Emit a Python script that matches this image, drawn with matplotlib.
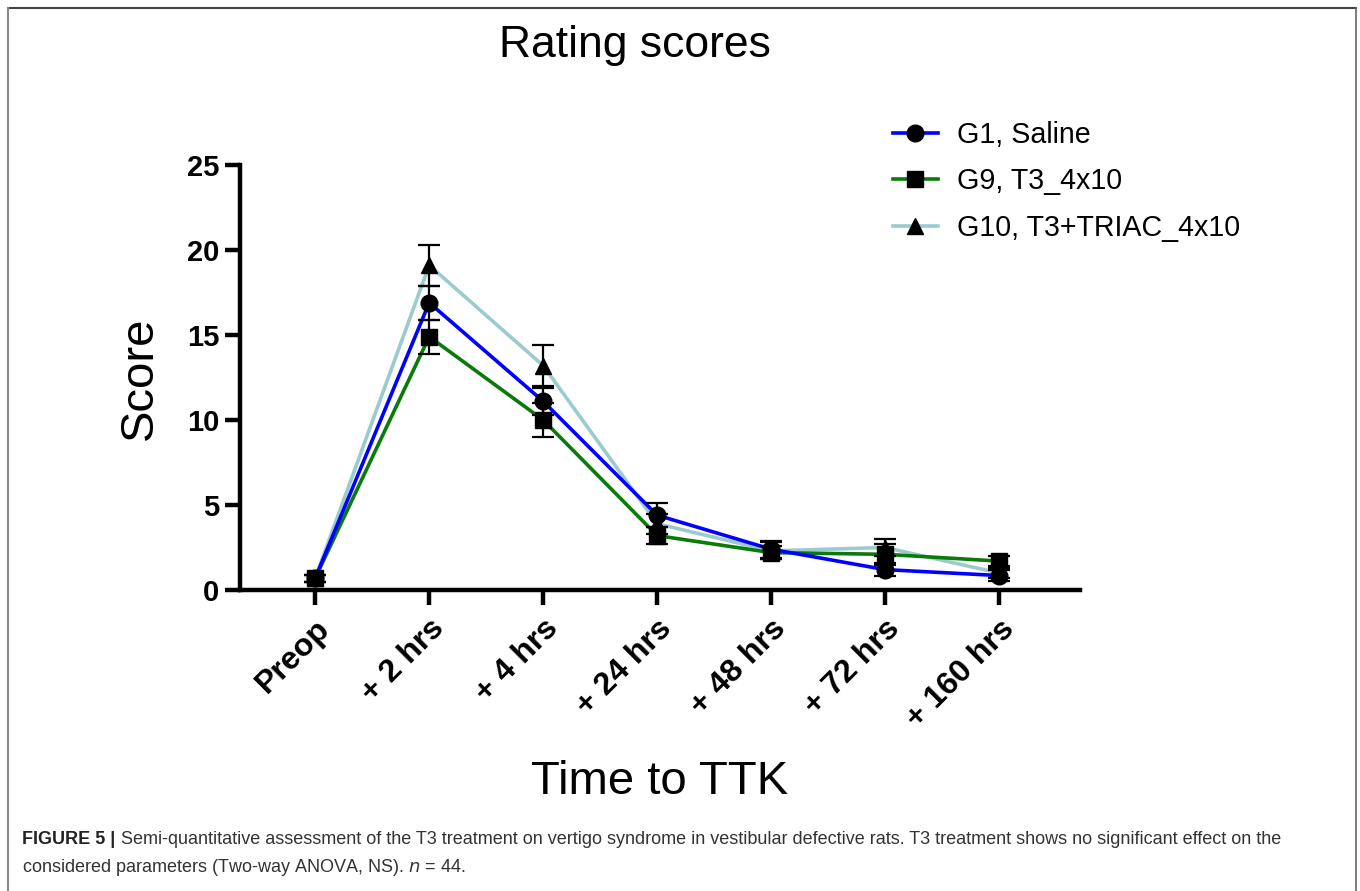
import matplotlib
matplotlib.use("Agg")
import matplotlib.pyplot as plt
from matplotlib.lines import Line2D
from matplotlib.transforms import ScaledTranslation

plt.rcParams['font.family'] = ['Liberation Sans', 'DejaVu Sans']

categories = ["Preop", "+ 2 hrs", "+ 4 hrs", "+ 24 hrs", "+ 48 hrs", "+ 72 hrs", "+ 160 hrs"]
g1_mean = [0.7, 16.9, 11.1, 4.4, 2.4, 1.2, 0.85]
g1_err = [0.2, 1.0, 0.8, 0.7, 0.5, 0.4, 0.3]
g9_mean = [0.7, 14.9, 10.0, 3.2, 2.2, 2.1, 1.7]
g9_err = [0.2, 1.0, 1.0, 0.5, 0.4, 0.6, 0.3]
g10_mean = [0.7, 19.1, 13.2, 3.9, 2.3, 2.5, 1.0]
g10_err = [0.2, 1.2, 1.2, 0.6, 0.5, 0.5, 0.3]
labels = ["G1, Saline", "G9, T3_4x10", "G10, T3+TRIAC_4x10"]
colors = ["#0000FF", "#0A7A0A", "#9BCBCD"]
markers = ["o", "s", "^"]
yticks = [0, 5, 10, 15, 20, 25]

W, H = 1360, 891
fig = plt.figure(figsize=(W / 100, H / 100), dpi=100)
ax = fig.add_axes([240 / W, 1 - 590 / H, (1080 - 240) / W, (590 - 165) / H])

x = list(range(len(categories)))
series = [(g10_mean, g10_err, 2), (g9_mean, g9_err, 1), (g1_mean, g1_err, 0)]
for z, (m, e, i) in enumerate(series):
    ax.plot(x, m, color=colors[i], lw=2.6, zorder=2 + z, solid_capstyle='butt')
for m, e, i in series:
    ax.errorbar(x, m, yerr=e, fmt='none', ecolor='black', elinewidth=1.6,
                capsize=8, capthick=1.6, zorder=6)
    ax.plot(x, m, linestyle='none', marker=markers[i], color='black',
            markersize=12 if i != 1 else 11, zorder=7)

ax.set_xlim(-0.66, 6.71)
ax.set_ylim(0, 25)
ax.set_yticks(yticks)
ax.set_xticks(x)
ax.set_xticklabels(categories, rotation=45, ha='right', rotation_mode='anchor',
                   fontsize=23, fontweight='bold')
shift = ScaledTranslation(-0.05, -0.09, fig.dpi_scale_trans)
for t in ax.get_xticklabels():
    t.set_transform(t.get_transform() + shift)
for t in ax.get_yticklabels():
    t.set_fontsize(21)
    t.set_fontweight('bold')
for s in ['top', 'right']:
    ax.spines[s].set_visible(False)
for s in ['left', 'bottom']:
    ax.spines[s].set_linewidth(3.2)
ax.tick_params(axis='both', width=3.2, length=11, direction='out', pad=4)
ax.tick_params(axis='x', pad=6)

fig.text(635 / W, 1 - 45 / H, "Rating scores", ha='center', va='center', fontsize=32)
fig.text(140 / W, 1 - 378 / H, "Score", ha='center', va='center', rotation=90, fontsize=34)
fig.text(660 / W, 1 - 782 / H, "Time to TTK", ha='center', va='center', fontsize=34)

handles = [Line2D([0], [0], color=colors[i], lw=2.6, marker=markers[i],
                  markerfacecolor='black', markeredgecolor='black', markersize=12)
           for i in range(3)]
fig.legend(handles, labels, loc='upper left', bbox_to_anchor=(867 / W, 1 - 95 / H),
           frameon=False, fontsize=20.6, handlelength=1.57, labelspacing=0.65,
           handletextpad=0.66)

# figure frame
fig.add_artist(Line2D([8 / W, 1356 / W], [1 - 8 / H, 1 - 8 / H], color='#444444', lw=1.5,
                      transform=fig.transFigure))
fig.add_artist(Line2D([8 / W, 8 / W], [0, 1 - 8 / H], color='#888888', lw=1.5,
                      transform=fig.transFigure))
fig.add_artist(Line2D([1356 / W, 1356 / W], [0, 1 - 8 / H], color='#666666', lw=1.2,
                      transform=fig.transFigure))

cap_fs = 13
fig.text(22 / W, 1 - 840 / H, "FIGURE 5 |", fontsize=cap_fs, fontweight='bold',
         va='center', color='#222222')
cap1 = ("Semi-quantitative assessment of the T3 treatment on vertigo syndrome in vestibular "
        "defective rats. T3 treatment shows no significant effect on the")
cap2 = "considered parameters (Two-way ANOVA, NS). $n$ = 44."
fig.text(121 / W, 1 - 840 / H, cap1, fontsize=cap_fs, va='center', color='#333333')
fig.text(22 / W, 1 - 867 / H, cap2, fontsize=cap_fs, va='center', color='#333333')

fig.savefig("out.png", dpi=100)
